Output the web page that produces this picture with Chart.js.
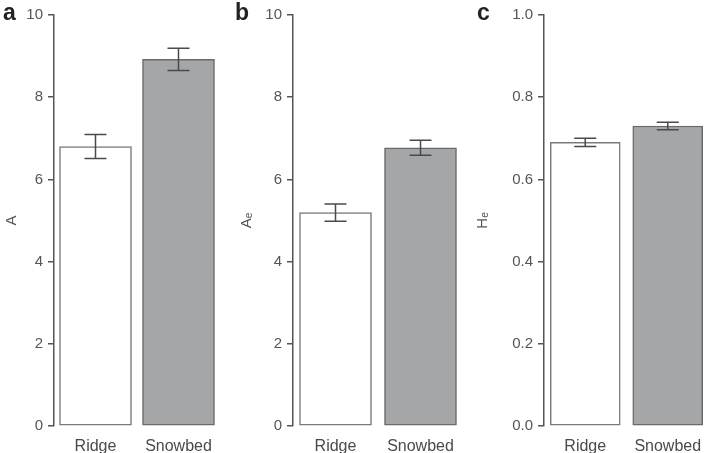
<!DOCTYPE html>
<html>
<head>
<meta charset="utf-8">
<script src="https://cdn.jsdelivr.net/npm/chart.js@4/dist/chart.umd.min.js"></script>
<style>
  html, body { margin: 0; padding: 0; background: #fff; }
  #wrap { position: relative; width: 706px; height: 453px; overflow: hidden; background: #fff; }
  canvas { position: absolute; top: 0; }
  .lbl { position: absolute; font-family: "Liberation Sans", Arial, sans-serif; font-weight: bold; font-size: 23px; color: #222; line-height: 1; }
</style>
</head>
<body>
<div id="wrap">
  <canvas id="ca" width="225" height="453" style="left:0px"></canvas>
  <canvas id="cb" width="236" height="453" style="left:230px"></canvas>
  <canvas id="cc" width="252" height="453" style="left:460px"></canvas>
  <div class="lbl" style="left:3px;top:1px">a</div>
  <div class="lbl" style="left:235px;top:1px">b</div>
  <div class="lbl" style="left:477px;top:1px">c</div>
</div>
<script>
// ---- data ----
const categories = ["Ridge", "Snowbed"];
const allelesA = [6.80, 8.92];
const allelesAErr = [0.29, 0.27];
const richnessAe = [5.19, 6.77];
const richnessAeErr = [0.21, 0.18];
const heterozygosityHe = [0.690, 0.730];
const heterozygosityHeErr = [0.010, 0.009];
const ticksA = [0, 2, 4, 6, 8, 10];
const ticksAe = [0, 2, 4, 6, 8, 10];
const ticksHe = [0.0, 0.2, 0.4, 0.6, 0.8, 1.0];

const FONT = '"Liberation Sans", Arial, sans-serif';

const errorBarPlugin = {
  id: 'errorBars',
  afterDatasetsDraw(chart, args, opts) {
    const ctx = chart.ctx;
    const y = chart.scales.y;
    chart.data.datasets.forEach((ds, di) => {
      const meta = chart.getDatasetMeta(di);
      meta.data.forEach((el, i) => {
        const v = ds.data[i], e = ds.errors[i];
        const yTop = y.getPixelForValue(v + e);
        const yBot = y.getPixelForValue(v - e);
        const x = el.x, hw = opts.capHalf || 11;
        ctx.save();
        ctx.strokeStyle = '#4a4a4a';
        ctx.lineWidth = 1.5;
        ctx.beginPath();
        ctx.moveTo(x, yTop); ctx.lineTo(x, yBot);
        ctx.moveTo(x - hw, yTop); ctx.lineTo(x + hw, yTop);
        ctx.moveTo(x - hw, yBot); ctx.lineTo(x + hw, yBot);
        ctx.stroke();
        ctx.restore();
      });
    });
  }
};

function makeChart(id, values, errs, tickVals, title, cfg) {
  const max = tickVals[tickVals.length - 1];
  const step = tickVals[1] - tickVals[0];
  return new Chart(document.getElementById(id), {
    type: 'bar',
    data: {
      labels: categories,
      datasets: [{
        data: values,
        errors: errs,
        backgroundColor: ['#ffffff', '#a5a6a8'],
        borderColor: ['#7a7a7a', '#6a6a6a'],
        borderWidth: 1.5,
        borderSkipped: false,
        barThickness: cfg.barW
      }]
    },
    options: {
      responsive: false,
      animation: false,
      devicePixelRatio: 1,
      layout: { padding: { top: 15, bottom: 0, left: 0, right: cfg.padRight } },
      plugins: {
        legend: { display: false },
        tooltip: { enabled: false },
        errorBars: { capHalf: cfg.capHalf }
      },
      scales: {
        x: {
          offset: true,
          grid: { display: false },
          border: { display: false },
          ticks: { color: '#4a4a4a', font: { family: FONT, size: 16 }, padding: 3, maxRotation: 0 },
          afterFit(s) { s.height = 27; }
        },
        y: {
          min: 0, max: max,
          afterBuildTicks(s) { s.ticks = tickVals.map(v => ({ value: v })); },
          ticks: {
            stepSize: step,
            color: '#555555',
            font: { family: FONT, size: 15 },
            padding: 5,
            callback: (v) => cfg.decimals ? Number(v).toFixed(cfg.decimals) : String(v)
          },
          grid: { display: true, drawOnChartArea: false, drawTicks: true, tickLength: 6, color: '#555555', lineWidth: 1.5 },
          border: { display: true, color: '#555555', width: 1.5 },
          title: { display: true, text: title, color: '#555555', font: { family: FONT, size: 15 }, padding: { top: cfg.titlePad, bottom: 0 } },
          afterFit(s) { s.width = cfg.axisW; }
        }
      }
    },
    plugins: [errorBarPlugin]
  });
}

makeChart('ca', allelesA, allelesAErr, ticksA, 'A', { axisW: 54, padRight: 5, barW: 72, capHalf: 11, titlePad: 3, decimals: 0 });
makeChart('cb', richnessAe, richnessAeErr, ticksAe, 'Aₑ', { axisW: 63, padRight: 3, barW: 72, capHalf: 11, titlePad: 8, decimals: 0 });
makeChart('cc', heterozygosityHe, heterozygosityHeErr, ticksHe, 'Hₑ', { axisW: 84, padRight: 3, barW: 70, capHalf: 11, titlePad: 14, decimals: 1 });
</script>
</body>
</html>
